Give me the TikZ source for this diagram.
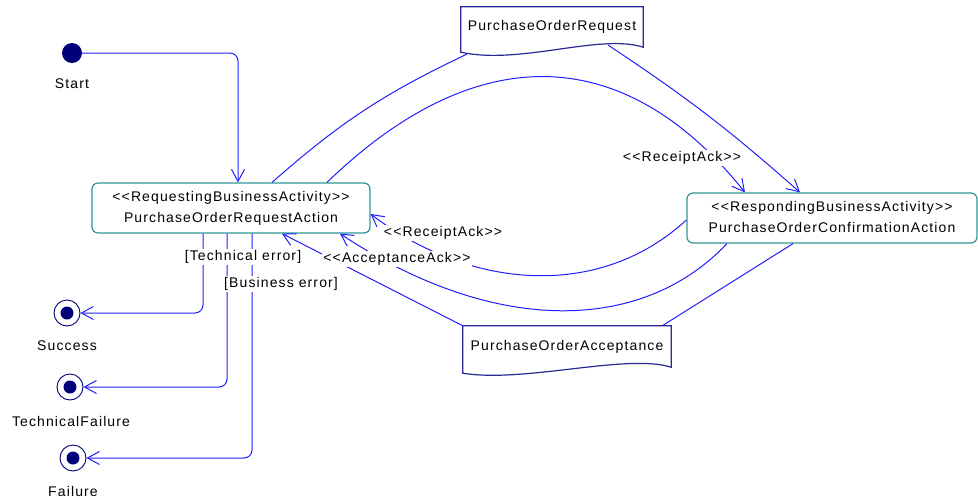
\documentclass[tikz,border=0pt]{standalone}
\usepackage{fontspec}
\setmainfont{Liberation Sans}[LetterSpace=8]
\usetikzlibrary{arrows.meta}

\definecolor{flowblue}{RGB}{30,30,255}
\definecolor{navy}{RGB}{0,0,120}
\definecolor{actteal}{RGB}{50,150,150}
\definecolor{objblue}{RGB}{40,40,150}

\begin{document}
\begin{tikzpicture}[x=1pt,y=-1pt,
  every node/.style={font=\fontsize{14}{21}\selectfont},
  flow/.style={draw=flowblue,line width=1pt},
  arr/.style={-{Straight Barb[length=12pt,width=13pt]}},
  activity/.style={draw=actteal,line width=1.2pt,rounded corners=6pt,fill=white,
    align=center,inner sep=0pt},
  objbox/.style={inner sep=0pt},
  objline/.style={draw=objblue,line width=1.2pt},
  initst/.style={circle,fill=navy,minimum size=20pt,inner sep=0pt},
  finalst/.style={circle,draw=navy,line width=0.9pt,minimum size=26pt,inner sep=0pt,
    path picture={\fill[navy] (path picture bounding box.center) circle (6.5pt);}},
  lbl/.style={fill=white,inner sep=1.5pt}]
\useasboundingbox (0,0) rectangle (978,499);

% states
\node[initst] (start) at (72,53) {};
\node (startname) at (72,84) {Start};
\node[finalst] (success) at (67,313) {};
\node (successname) at (67,346) {Success};
\node[finalst] (techfail) at (70,387) {};
\node (techfailname) at (71,421) {TechnicalFailure};
\node[finalst] (fail) at (73,458) {};
\node (failname) at (73,491) {Failure};

% activities
\node[activity,minimum width=278pt,minimum height=50pt] (reqact) at (231,208)
  {<{}<RequestingBusinessActivity>{}>\\PurchaseOrderRequestAction\vphantom{g}\rule[-3pt]{0pt}{0pt}};
\node[activity,minimum width=290pt,minimum height=50pt] (respact) at (832,218)
  {<{}<RespondingBusinessActivity>{}>\\PurchaseOrderConfirmationAction\rule[-3pt]{0pt}{0pt}};

% business documents
\node[objbox,minimum width=182pt,minimum height=40pt] (poreq) at (552,27) {PurchaseOrderRequest};
\draw[objline] (poreq.south west) -- (poreq.north west) -- (poreq.north east) -- (poreq.south east)
  .. controls +(-43,-14) and +(59,13) .. ([yshift=-5pt]poreq.south west) -- cycle;
\node[objbox,minimum width=208pt,minimum height=41pt] (poacc) at (567,346.5) {PurchaseOrderAcceptance};
\draw[objline] (poacc.south west) -- (poacc.north west) -- (poacc.north east) -- (poacc.south east)
  .. controls +(-45,-14) and +(62,10) .. ([yshift=-6pt]poacc.south west) -- cycle;

% flows
\draw[flow,arr,rounded corners=8pt] (start.east) -| ([xshift=7pt]reqact.north);
\draw[flow] ([xshift=41pt]reqact.north) to[bend left=8] ([xshift=6pt,yshift=-7pt]poreq.south west);
\draw[flow,arr] ([xshift=-35pt,yshift=2pt]poreq.south east) to[bend left=4] ([xshift=-32pt]respact.north);
\draw[flow,arr] ([xshift=96pt]reqact.north) .. controls +(150,-145) and +(-120,-150) .. ([xshift=-87pt]respact.north);
\draw[flow,arr] ([yshift=-2pt]respact.west) .. controls +(-87,80) and +(100,76) .. ([yshift=-6pt]reqact.east);
\draw[flow,arr] ([xshift=-105pt]respact.south) .. controls +(-87,92) and +(150,100) .. ([xshift=109pt]reqact.south);
\draw[flow,arr] (poacc.north west) -- ([xshift=51pt]reqact.south);
\draw[flow] ([xshift=-39pt]respact.south) -- ([xshift=-9pt]poacc.north east);

\draw[flow,arr,rounded corners=8pt] ([xshift=-28pt]reqact.south) |- (success.east);
\draw[flow,arr,rounded corners=8pt] ([xshift=-4pt]reqact.south) |- (techfail.east);
\draw[flow,arr,rounded corners=8pt] ([xshift=21pt]reqact.south) |- (fail.east);

% labels
\node[lbl] (ack1) at (682,158) {<{}<ReceiptAck>{}>};
\node[lbl] (ack2) at (443,233) {<{}<ReceiptAck>{}>};
\node[lbl] (accack) at (397,259) {<{}<AcceptanceAck>{}>};
\node[lbl] (techerr) at (243,257) {[Technical error]};
\node[lbl] (buserr) at (281,284) {[Business error]};
\end{tikzpicture}
\end{document}
